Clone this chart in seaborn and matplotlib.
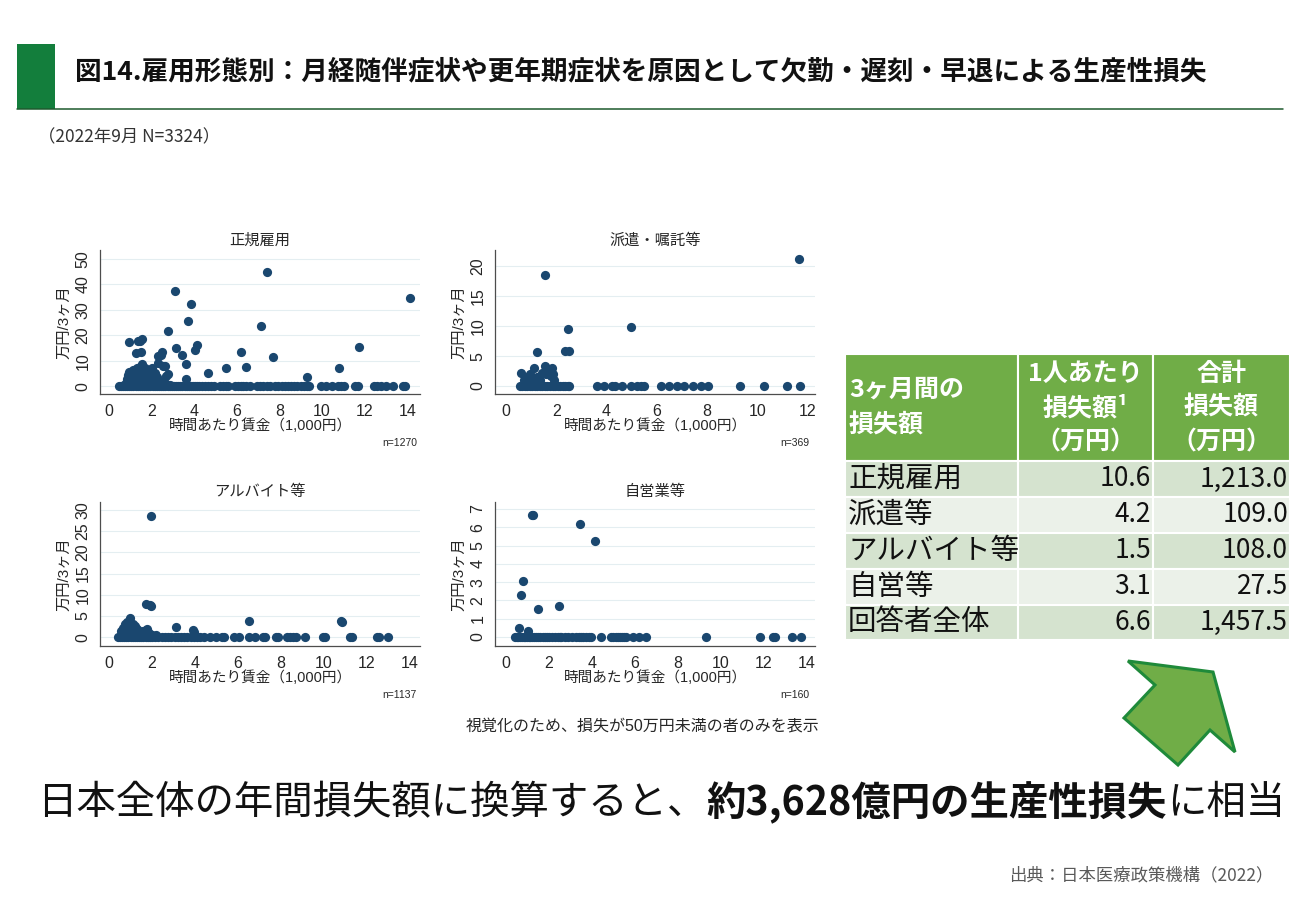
import matplotlib
matplotlib.use("Agg")
import matplotlib.pyplot as plt
from matplotlib.patches import Rectangle, Polygon
import pandas as pd
import seaborn as sns

# ---- values ----
panel_titles = ["正規雇用", "派遣・嘱託等", "アルバイト等", "自営業等"]
panel_n = ["n=1270", "n=369", "n=1137", "n=160"]

# 正規雇用: wages with zero loss, then (wage, loss) pairs with a loss
seiki_zero_wage = [0.45, 0.55, 0.65, 0.75, 0.85, 0.95, 1.05, 1.15, 1.25, 1.35, 1.45, 1.55,
                   1.65, 1.75, 1.85, 1.95, 2.05, 2.15, 2.25, 2.35, 2.45, 2.55, 2.65, 2.75,
                   2.85, 2.95, 3.05, 3.15, 3.25, 3.35, 3.45, 3.55, 3.65, 3.75, 3.85, 3.95,
                   4.05, 4.15, 4.25, 4.35, 4.5, 4.65, 4.8, 4.95, 5.2, 5.35, 5.5, 5.6, 5.9,
                   6.05, 6.2, 6.3, 6.45, 6.6, 6.95, 7.1, 7.25, 7.4, 7.55, 7.8, 7.95, 8.1,
                   8.25, 8.4, 8.55, 8.7, 8.85, 9.0, 9.15, 9.3, 9.4, 9.95, 10.2, 10.45,
                   10.75, 10.9, 11.05, 11.55, 11.7, 12.45, 12.6, 12.75, 13.0, 13.35, 13.8, 13.9]
seiki_wage = [7.41, 3.11, 14.13, 3.86, 3.72, 7.13, 2.75, 0.93, 1.37, 1.57, 1.45, 11.76,
              4.11, 4.03, 3.17, 6.19, 1.49, 1.26, 2.46, 2.31, 2.50, 3.41, 7.72, 3.61,
              2.28, 2.54, 2.62, 5.51, 6.45, 10.82, 4.65, 9.28, 3.63, 2.79, 2.68,
              0.80, 0.85, 0.90, 0.95, 1.00, 1.05, 1.10, 1.15, 1.20, 1.25, 1.30, 1.35,
              1.40, 1.45, 1.50, 1.55, 1.60, 1.65, 1.70, 1.75, 1.80, 1.85, 1.90, 1.95,
              2.00, 2.05, 2.10, 2.15, 2.20, 2.30, 2.40, 2.50, 2.60, 2.70, 2.85, 1.00,
              1.20, 1.40, 1.60, 1.80, 2.00, 0.70, 0.95, 1.30, 1.50, 1.70, 1.90, 1.25,
              1.55, 1.75, 2.05, 2.25, 1.10, 1.35, 1.65, 1.85, 0.88, 1.48]
seiki_loss = [44.7, 37.4, 34.7, 32.2, 25.5, 23.8, 21.8, 17.2, 17.8, 18.4, 17.9, 15.3,
              16.2, 14.2, 14.9, 13.4, 13.4, 12.9, 12.1, 11.7, 13.3, 12.4, 11.4, 8.8,
              9.2, 7.9, 7.9, 7.0, 7.4, 7.0, 5.3, 3.6, 2.8, 4.6, 3.9,
              1.2, 2.6, 4.2, 5.5, 3.3, 1.8, 4.8, 6.2, 2.7, 5.4, 7.0, 3.8,
              6.0, 7.6, 4.5, 8.6, 6.8, 2.2, 7.3, 5.0, 3.5, 6.4, 2.8, 4.6,
              7.0, 1.6, 3.7, 5.2, 2.4, 1.3, 2.2, 0.9, 1.6, 0.7, 0.6, 0.8,
              1.4, 1.1, 1.5, 0.9, 1.1, 0.6, 1.3, 2.1, 2.4, 1.8, 1.2, 3.9,
              5.8, 3.0, 2.9, 3.6, 2.6, 5.0, 4.4, 5.2, 3.2, 3.1]

# 派遣・嘱託等
haken_zero_wage = [0.55, 0.65, 0.75, 0.85, 0.95, 1.05, 1.15, 1.25, 1.35, 1.45, 1.55, 1.65,
                   1.75, 1.85, 1.95, 2.05, 2.15, 2.25, 2.35, 2.45, 2.52, 3.63, 3.9, 4.2,
                   4.35, 4.6, 4.96, 5.2, 5.36, 5.5, 6.15, 6.5, 6.8, 7.1, 7.45, 7.75, 8.05,
                   9.3, 10.27, 11.18, 11.7]
haken_wage = [11.67, 1.54, 2.46, 4.96, 1.22, 2.33, 2.50, 0.58, 1.10, 1.57, 1.70, 1.81,
              1.61, 1.77, 0.97, 0.86, 0.70, 1.37, 1.24, 1.05, 1.45, 1.85, 1.30, 1.90, 0.80]
haken_loss = [21.2, 18.5, 9.6, 9.9, 5.7, 5.85, 5.85, 2.2, 3.0, 3.3, 2.9, 3.0,
              1.95, 1.6, 1.95, 1.5, 0.95, 0.95, 1.5, 0.6, 2.2, 2.0, 0.5, 1.0, 0.5]

# アルバイト等
arbeit_zero_wage = [0.4, 0.5, 0.6, 0.7, 0.8, 0.9, 1.0, 1.1, 1.2, 1.3, 1.4, 1.5, 1.6, 1.7,
                    1.8, 1.9, 2.0, 2.15, 2.3, 2.45, 2.6, 2.75, 2.9, 3.05, 3.2, 3.35, 3.5,
                    3.65, 3.8, 3.95, 4.1, 4.25, 4.4, 4.7, 5.0, 5.25, 5.35, 5.8, 6.05, 6.5,
                    6.8, 7.15, 7.25, 7.75, 7.85, 8.3, 8.4, 8.55, 8.7, 9.1, 9.95, 10.05,
                    11.2, 11.3, 12.45, 12.55, 13.0]
arbeit_wage = [1.96, 1.74, 1.89, 1.94, 0.96, 6.51, 10.78, 10.86, 3.12, 3.91, 3.95,
               0.55, 0.65, 0.75, 0.80, 0.85, 0.90, 1.00, 1.05, 1.10, 1.15, 1.20, 1.25,
               1.30, 1.40, 1.50, 1.60, 1.70, 1.80, 1.90, 0.70, 1.00, 1.35, 2.00, 2.20,
               0.60, 1.75, 0.95, 1.12, 1.45]
arbeit_loss = [28.6, 7.9, 7.5, 7.3, 4.5, 3.7, 3.7, 3.6, 2.3, 1.6, 1.2,
               1.5, 2.2, 3.0, 1.0, 3.5, 2.0, 3.2, 2.5, 3.0, 1.8, 2.6, 1.2,
               2.0, 1.5, 1.0, 1.4, 1.6, 1.2, 0.8, 0.8, 1.0, 0.7, 0.6, 0.4,
               0.5, 1.8, 1.4, 0.9, 0.6]

# 自営業等
jiei_zero_wage = [0.43, 0.5, 0.58, 0.66, 0.74, 0.82, 0.9, 0.98, 1.06, 1.14, 1.22, 1.3,
                  1.4, 1.5, 1.6, 1.7, 1.8, 1.9, 2.0, 2.15, 2.3, 2.42, 2.5, 2.58, 2.75,
                  2.9, 3.05, 3.25, 3.4, 3.5, 3.6, 3.7, 3.85, 3.95, 4.43, 4.9, 5.0, 5.1,
                  5.2, 5.3, 5.4, 5.5, 5.6, 5.9, 6.2, 6.5, 9.3, 11.83, 12.4, 12.5, 13.3, 13.7]
jiei_wage = [1.22, 1.28, 3.46, 4.12, 0.81, 0.70, 1.47, 2.45, 0.60, 1.01]
jiei_loss = [6.69, 6.69, 6.19, 5.27, 3.04, 2.27, 1.54, 1.70, 0.48, 0.31]

# table
table_rows = ["正規雇用", "派遣等", "アルバイト等", "自営等", "回答者全体"]
per_person = [10.6, 4.2, 1.5, 3.1, 6.6]
total_loss = [1213.0, 109.0, 108.0, 27.5, 1457.5]

frames = []
for name, zw, w, l in [
    (panel_titles[0], seiki_zero_wage, seiki_wage, seiki_loss),
    (panel_titles[1], haken_zero_wage, haken_wage, haken_loss),
    (panel_titles[2], arbeit_zero_wage, arbeit_wage, arbeit_loss),
    (panel_titles[3], jiei_zero_wage, jiei_wage, jiei_loss),
]:
    frames.append(pd.DataFrame({"group": name, "wage": zw, "loss": 0.0}))
    frames.append(pd.DataFrame({"group": name, "wage": w, "loss": l}))
df = pd.concat(frames, ignore_index=True)

sns.set_theme(style="white")
plt.rcParams["font.family"] = ["Noto Sans CJK JP", "DejaVu Sans"]
stata_font = ["Liberation Sans", "Noto Sans CJK JP", "DejaVu Sans"]

W, H = 1300, 900
fig = plt.figure(figsize=(13, 9), dpi=100)
fig.patch.set_facecolor("white")

navy = "#1a476f"

# left, top, right, bottom in pixels; axis limits; ticks
panels = [
    ((100, 250, 420, 394), (-0.42, 14.6), (-3.1, 53.5), range(0, 15, 2), range(0, 51, 10), 0.99),
    ((495, 250, 815, 394), (-0.44, 12.3), (-1.33, 22.7), range(0, 13, 2), range(0, 21, 5), 0.984),
    ((100, 502, 420, 646), (-0.42, 14.47), (-2.1, 31.9), range(0, 15, 2), range(0, 31, 5), 0.99),
    ((495, 502, 815, 646), (-0.51, 14.37), (-0.49, 7.38), range(0, 15, 2), range(0, 8, 1), 0.984),
]

for i, (box, xlim, ylim, xt, yt, nx) in enumerate(panels):
    l, t, r, b = box
    ax = fig.add_axes([l / W, 1 - b / H, (r - l) / W, (b - t) / H])
    sub = df[df["group"] == panel_titles[i]]
    sns.scatterplot(data=sub, x="wage", y="loss", ax=ax, color=navy, s=44,
                    linewidth=0, legend=False, zorder=3)
    ax.set_xlim(*xlim)
    ax.set_ylim(*ylim)
    ax.set_xticks(list(xt))
    ax.set_yticks(list(yt))
    ax.grid(axis="y", color="#e4eef1", lw=0.8, zorder=0)
    for s in ["top", "right"]:
        ax.spines[s].set_visible(False)
    for s in ["left", "bottom"]:
        ax.spines[s].set_color("#4d4d4d")
        ax.spines[s].set_linewidth(0.9)
    ax.tick_params(axis="both", direction="out", length=4, width=0.8, color="#4d4d4d",
                   labelsize=11.5, pad=3)
    ax.tick_params(axis="y", labelrotation=90)
    for lab in ax.get_xticklabels() + ax.get_yticklabels():
        lab.set_family(stata_font)
    for lab in ax.get_yticklabels():
        lab.set_va("center")
    ax.set_xlabel("時間あたり賃金（1,000円）", fontsize=10.5, family=stata_font, labelpad=0)
    ax.set_ylabel("万円/3ヶ月", fontsize=11, family=stata_font, labelpad=3)
    ax.set_title(panel_titles[i], fontsize=11, family=stata_font, pad=4)
    ax.text(nx, -0.34, panel_n[i], transform=ax.transAxes, ha="right", va="center",
            fontsize=7.5, family=stata_font)

# overlay in pixel coordinates
bg = fig.add_axes([0, 0, 1, 1])
bg.set_xlim(0, W)
bg.set_ylim(H, 0)
bg.axis("off")
bg.patch.set_alpha(0)

# header
bg.add_patch(Rectangle((17, 44), 38, 65, color="#137e3c", lw=0))
bg.plot([17, 1283], [108.5, 108.5], color="#1e5a2e", lw=1.1)
bg.text(75, 72, "図14.雇用形態別：月経随伴症状や更年期症状を原因として欠勤・遅刻・早退による生産性損失",
        fontsize=19.2, fontweight="bold", va="center", ha="left", color="#111111")
bg.text(38, 137, "（2022年9月 N=3324）", fontsize=12.5, va="center", ha="left", color="#333333")

bg.text(643, 727, "視覚化のため、損失が50万円未満の者のみを表示", fontsize=11.5,
        ha="center", va="center", family=stata_font)

# table
cols = [845, 1018, 1153, 1290]
rows = [354, 461, 497, 533, 569, 605, 640]
for c in range(3):
    bg.add_patch(Rectangle((cols[c], rows[0]), cols[c + 1] - cols[c], rows[1] - rows[0],
                           facecolor="#70ad47", edgecolor="white", lw=1.5))
    for k in range(5):
        fc = "#d5e3cf" if k % 2 == 0 else "#ebf1e9"
        bg.add_patch(Rectangle((cols[c], rows[k + 1]), cols[c + 1] - cols[c],
                               rows[k + 2] - rows[k + 1], facecolor=fc, edgecolor="white", lw=1.5))

hdr = dict(color="white", fontsize=18, fontweight="bold", va="center")
bg.text(849, 390, "3ヶ月間の", ha="left", **hdr)
bg.text(849, 426, "損失額", ha="left", **hdr)
cx2 = (cols[1] + cols[2]) / 2
cx3 = (cols[2] + cols[3]) / 2
bg.text(cx2, 374, "1人あたり", ha="center", **hdr)
bg.text(cx2, 408, "損失額¹", ha="center", **hdr)
bg.text(cx2, 442, "（万円）", ha="center", **hdr)
bg.text(cx3, 374, "合計", ha="center", **hdr)
bg.text(cx3, 408, "損失額", ha="center", **hdr)
bg.text(cx3, 442, "（万円）", ha="center", **hdr)

for k, lab in enumerate(table_rows):
    yc = (rows[k + 1] + rows[k + 2]) / 2
    bg.text(848, yc, lab, ha="left", va="center", fontsize=20.5, color="#111111")
    bg.text(cols[2] - 2, yc, f"{per_person[k]:,.1f}", ha="right", va="center",
            fontsize=19, color="#111111")
    bg.text(cols[3] - 2, yc, f"{total_loss[k]:,.1f}", ha="right", va="center",
            fontsize=19, color="#111111")

# arrow
arrow = [(1128, 661), (1213, 672), (1235, 752), (1210, 730), (1178, 765), (1124, 718), (1155, 685)]
bg.add_patch(Polygon(arrow, closed=True, facecolor="#70ad47", edgecolor="#1f8a3a", lw=2.2,
                     joinstyle="miter"))

# bottom statement
renderer = fig.canvas.get_renderer()
x = 37
for part, wt in [("日本全体の年間損失額に換算すると、", "normal"),
                 ("約3,628億円の生産性損失", "bold"),
                 ("に相当", "normal")]:
    t = bg.text(x, 803, part, fontsize=28.4, fontweight=wt, va="center", ha="left", color="#111111")
    x += t.get_window_extent(renderer=renderer).width

bg.text(1273, 875, "出典：日本医療政策機構（2022）", fontsize=12.5, ha="right", va="center",
        color="#595959")

fig.savefig("out.png", dpi=100, facecolor="white")
